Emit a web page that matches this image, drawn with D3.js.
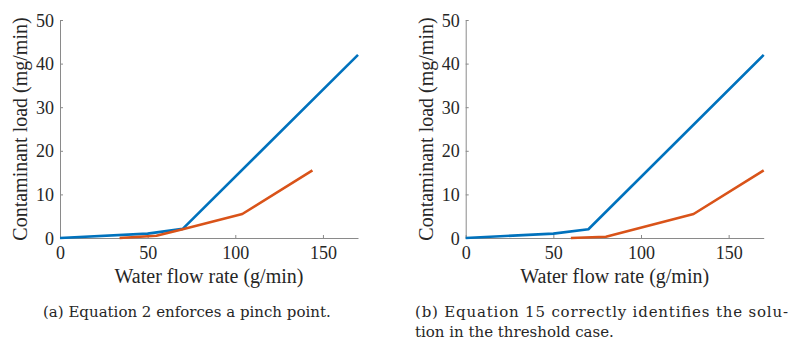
<!DOCTYPE html>
<html>
<head>
<meta charset="utf-8">
<script src="https://cdn.jsdelivr.net/npm/d3@7"></script>
<style>
  body { margin: 0; background: #fff; }
  svg text { fill: #262626; }
</style>
</head>
<body>
<div id="chart"></div>
<script>
// data
let xTicks = [0, 50, 100, 150];
let yTicks = [0, 10, 20, 30, 40, 50];

let blueA_x = [0, 50, 70, 170];
let blueA_y = [0, 1, 2.1, 42];
let redA_x = [34, 55, 70, 104, 144];
let redA_y = [0, 0.5, 2, 5.5, 15.5];

let blueB_x = [0, 50, 70, 170];
let blueB_y = [0, 1, 2, 42];
let redB_x = [60, 80, 130, 170];
let redB_y = [0, 0.3, 5.5, 15.5];

let captions = [
  ["(a) Equation 2 enforces a pinch point."],
  ["(b) Equation 15 correctly identifies the solu-", "tion in the threshold case."]
];

let blue = '#0072BD', red = '#D95319';
let serif = 'Liberation Serif, Times New Roman, Times, serif';

let svg = d3.select('#chart').append('svg')
  .attr('width', 801)
  .attr('height', 340);

function zip(xs, ys){ return xs.map(function(x, i){ return [x, ys[i]]; }); }

function drawPanel(left, series, cap, capX, capWidth){
  var x = d3.scaleLinear().domain([0, 170]).range([left, left + 298]);
  var y = d3.scaleLinear().domain([0, 50]).range([238, 20]);

  var g = svg.append('g');

  // axes, matlab style: ticks inside
  var xa = g.append('g').attr('transform', 'translate(0,238)')
    .call(d3.axisBottom(x).tickValues(xTicks).tickSizeInner(-3).tickSizeOuter(0).tickPadding(8));
  var ya = g.append('g').attr('transform', 'translate(' + left + ',0)')
    .call(d3.axisLeft(y).tickValues(yTicks).tickSizeInner(-3).tickSizeOuter(0).tickPadding(6));
  [xa, ya].forEach(function(a){
    a.attr('font-family', serif).attr('font-size', 18);
    a.select('.domain').attr('stroke', '#8a8a8a');
    a.selectAll('.tick line').attr('stroke', '#8a8a8a');
    a.selectAll('.tick text').attr('fill', '#262626');
  });
  xa.selectAll('.tick text').attr('dy', '0.71em');
  ya.selectAll('.tick text').attr('dy', '0.34em');

  var line = d3.line().x(function(d){ return x(d[0]); }).y(function(d){ return y(d[1]); });
  series.forEach(function(s){
    g.append('path').datum(s.pts)
      .attr('d', line)
      .attr('fill', 'none')
      .attr('stroke', s.color)
      .attr('stroke-width', 2.6)
      .attr('stroke-linejoin', 'round');
  });

  g.append('text')
    .attr('x', (x(0) + x(170)) / 2)
    .attr('y', 283)
    .attr('text-anchor', 'middle')
    .attr('font-family', serif)
    .attr('font-size', 20)
    .text('Water flow rate (g/min)');

  g.append('text')
    .attr('transform', 'translate(' + (left - 33) + ',' + y(25) + ') rotate(-90)')
    .attr('text-anchor', 'middle')
    .attr('font-family', serif)
    .attr('font-size', 20)
    .text('Contaminant load (mg/min)');

  cap.forEach(function(t, i){
    var c = g.append('text')
      .attr('x', capX)
      .attr('y', 317 + i * 20)
      .attr('font-family', 'DejaVu Serif, serif')
      .attr('font-size', 15)
      .attr('fill', '#111')
      .text(t);
    // first line of a wrapped caption is justified
    if (cap.length > 1 && i == 0) c.attr('textLength', capWidth).attr('lengthAdjust', 'spacing');
  });
}

drawPanel(60, [
  {pts: zip(blueA_x, blueA_y), color: blue},
  {pts: zip(redA_x, redA_y), color: red}
], captions[0], 43, 0);

drawPanel(465.7, [
  {pts: zip(blueB_x, blueB_y), color: blue},
  {pts: zip(redB_x, redB_y), color: red}
], captions[1], 415, 373);
</script>
</body>
</html>
